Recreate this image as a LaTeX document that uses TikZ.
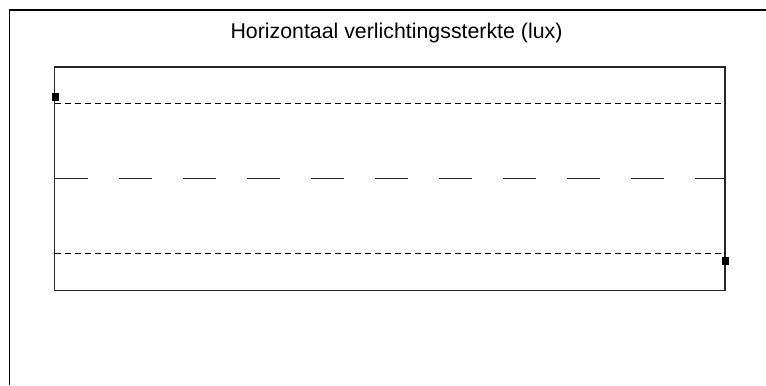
\documentclass[tikz,border=0pt]{standalone}
\usepackage{fontspec}
\setmainfont{Liberation Sans}
\begin{document}
\begin{tikzpicture}[x=0.75pt,y=-0.75pt,
  frameline/.style={draw=black, line width=0.9pt},
  roadedge/.style={draw=black!85, line width=0.8pt},
  shortdash/.style={draw=black, line width=0.75pt, dash pattern=on 4.5pt off 3pt},
  centerdash/.style={draw=black!85, line width=0.8pt, dash pattern=on 24.75pt off 23.25pt},
  markerbox/.style={fill=black, draw=none, minimum width=5pt, minimum height=6.5pt, inner sep=0pt},
  titletext/.style={font=\fontsize{16}{19}\selectfont, inner sep=0pt, anchor=base}]
\useasboundingbox (0,0) rectangle (766,385);
% outer frame (only left and top visible)
\coordinate (fbl) at (9.5,385);
\coordinate (ftl) at (9.5,10);
\coordinate (ftr) at (766,10);
\draw[frameline] (fbl) -- (ftl) -- (ftr);
% title
\node[titletext] (title) at (396.5,39) {Horizontaal verlichtingssterkte (lux)};
% road rectangle
\coordinate (rtl) at (54.5,67);
\coordinate (rbr) at (725,290.5);
\draw[roadedge] (rtl) rectangle (rbr);
% lane dashed lines
\coordinate (d1l) at (54.5,103.5);
\coordinate (d1r) at (725,103.5);
\coordinate (d2l) at (54.5,253);
\coordinate (d2r) at (725,253);
\draw[shortdash] (d1l) -- (d1r);
\draw[shortdash] (d2l) -- (d2r);
% centre line
\coordinate (cl) at (54.5,178.5);
\coordinate (cr) at (725,178.5);
\draw[centerdash] (cl) -- (cr);
% markers
\node[markerbox] (m1) at (55.3,97) {};
\node[markerbox] (m2) at (725.3,261) {};
\end{tikzpicture}
\end{document}
